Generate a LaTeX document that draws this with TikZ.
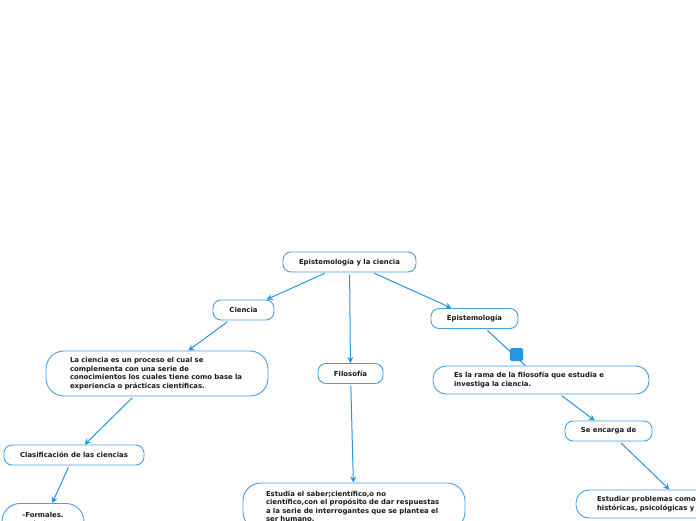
\documentclass[tikz,border=0pt]{standalone}
\usepackage{fontspec}
\setmainfont{DejaVu Sans}
\usetikzlibrary{arrows.meta}
\definecolor{boxblue}{RGB}{66,160,228}
\definecolor{linkblue}{RGB}{38,150,222}
\begin{document}
\begin{tikzpicture}[x=1pt, y=-1pt, >={Stealth[length=6pt,width=6pt]},
  topic/.style={draw=boxblue, line width=0.9pt, rounded corners=8pt, fill=white,
    minimum height=20pt, inner sep=0pt, text=black!90,
    font=\bfseries\fontsize{6.9}{8.5}\selectfont},
  note/.style={topic, rounded corners=18pt, align=left},
  link/.style={draw=linkblue, line width=1pt, shorten <=2pt}]
  % Canvas
  \useasboundingbox (0,0) rectangle (696,520);
  \fill[white] (0,0) rectangle (696,520);
  \clip (0,0) rectangle (696,520);

  % Central topic and first level
  \node[topic, minimum width=133pt] (root) at (349.5,262) {Epistemología y la ciencia};
  \node[topic, minimum width=61pt] (ciencia) at (243.5,310) {Ciencia};
  \node[topic, minimum width=65pt] (filosofia) at (350.5,373.5) {Filosofía};
  \node[topic, minimum width=87pt] (episte) at (474.5,318.5) {Epistemología};

  % Ciencia branch
  \node[note, text width=174pt, inner xsep=24pt, minimum height=45pt] (cienciadef) at (157,373.5)
    {La ciencia es un proceso el cual se\\complementa con una serie de\\conocimientos los cuales tiene como base la\\experiencia o prácticas científicas.};
  \node[topic, minimum width=140pt] (clasif) at (74,455) {Clasificación de las ciencias};
  \node[note, align=center, minimum width=82pt, minimum height=40pt, anchor=north] (formales) at (43,503)
    {-Formales.\\-Fácticas.\\};

  % Filosofia branch
  \node[note, text width=176pt, inner xsep=23pt, minimum height=47pt] (estudia) at (354,506.5)
    {Estudia el saber;científico,o no\\científico,con el propósito de dar respuestas\\a la serie de interrogantes que se plantea el\\ser humano.};

  % Epistemologia branch
  \node[note, text width=174pt, inner xsep=21pt, minimum height=28pt, rounded corners=13pt] (rama) at (541,380)
    {Es la rama de la filosofía que estudia e\\investiga la ciencia.};
  \node[topic, minimum width=87pt] (encarga) at (608.5,431) {Se encarga de};
  \node[note, text width=175pt, inner xsep=21pt, minimum height=28pt, rounded corners=13pt] (problemas) at (684.5,504)
    {Estudiar problemas como\\históricas, psicológicas y};

  % Connectors
  \draw[link, ->] (root) -- (ciencia);
  \draw[link, ->] (root) -- (filosofia);
  \draw[link, ->] (root) -- (episte);
  \draw[link, ->] (ciencia) -- (cienciadef);
  \draw[link, ->] (cienciadef) -- (clasif);
  \draw[link, ->] (clasif) -- (formales);
  \draw[link, ->] (filosofia) -- (estudia);
  \draw[link] (episte) -- (rama);
  \draw[link, ->] (rama) -- (encarga);
  \draw[link, ->] (encarga) -- (problemas);

  % Folded marker
  \node[fill=linkblue, rounded corners=1.5pt, minimum size=13pt, inner sep=0pt] (fold) at (516.5,354.5) {};
\end{tikzpicture}
\end{document}
